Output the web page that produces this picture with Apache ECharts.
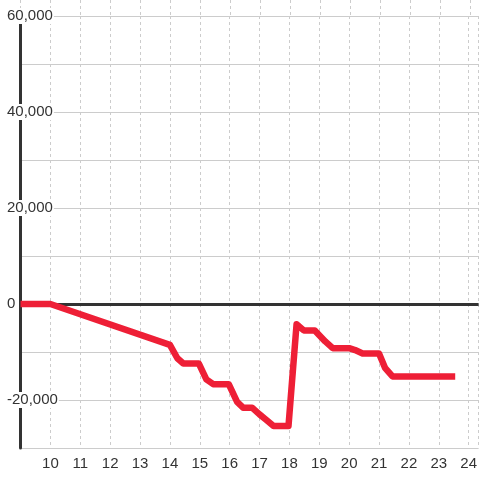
<!DOCTYPE html>
<html>
<head>
<meta charset="utf-8">
<script src="https://cdn.jsdelivr.net/npm/echarts@6/dist/echarts.min.js"></script>
<style>html,body{margin:0;padding:0;background:#fff}#c{width:480px;height:480px}</style>
</head>
<body>
<div id="c"></div>
<script>
var hours = [9, 10, 14, 14.25, 14.45, 14.97, 15.22, 15.45, 15.97, 16.25, 16.45, 16.75, 17.0, 17.2, 17.47, 17.97, 18.24, 18.48, 18.85, 19.2, 19.45, 20.0, 20.2, 20.45, 21.0, 21.2, 21.45, 23.55];
var values = [0, 0, -8500, -11300, -12400, -12400, -15700, -16700, -16700, -20400, -21600, -21600, -23000, -24000, -25400, -25400, -4200, -5500, -5500, -7800, -9200, -9200, -9600, -10300, -10300, -13300, -15100, -15100];
var xTickLabels = [10, 11, 12, 13, 14, 15, 16, 17, 18, 19, 20, 21, 22, 23, 24];
var yTickLabels = [-20000, 0, 20000, 40000, 60000];
var zeroLineValue = 0;

var xMin = 9, xMax = 9 + 460 / 30;
function fmt(v) { return String(v).replace(/\B(?=(\d{3})+(?!\d))/g, ','); }

var chart = echarts.init(document.getElementById('c'), null, {renderer: 'canvas'});
chart.setOption({
  animation: false,
  backgroundColor: '#fff',
  grid: [
    {left: 20.5, right: 0, top: 16, bottom: 32},
    {left: 20.5, right: 0, top: 0, height: 16}
  ],
  xAxis: [
    {
      gridIndex: 0, type: 'value', min: xMin, max: xMax, interval: 1, position: 'bottom',
      axisLine: {show: false}, axisTick: {show: false},
      axisLabel: {customValues: xTickLabels, fontSize: 15, color: '#333', margin: 8, fontFamily: 'Liberation Sans'},
      splitLine: {show: true, lineStyle: {color: '#cccccc', width: 1, type: [3, 3]}}
    },
    {
      gridIndex: 1, type: 'value', min: xMin, max: xMax, interval: 1,
      axisLine: {show: false}, axisTick: {show: false}, axisLabel: {show: false},
      splitLine: {show: true, lineStyle: {color: '#cccccc', width: 1, type: [3, 3]}}
    }
  ],
  yAxis: [
    {
      gridIndex: 0, type: 'value', min: -30000, max: 60000, interval: 10000,
      axisLine: {show: true, onZero: false, lineStyle: {color: '#333', width: 3}},
      axisTick: {show: false},
      axisLabel: {
        customValues: yTickLabels, formatter: function (v) { return fmt(v); },
        fontSize: 15, color: '#333', align: 'left', margin: 14.5,
        backgroundColor: '#fff', padding: [1, 1, 0, 1], fontFamily: 'Liberation Sans'
      },
      splitLine: {show: true, lineStyle: {color: '#cccccc', width: 1}}
    },
    {gridIndex: 1, type: 'value', min: 0, max: 1, show: false}
  ],
  series: [
    {
      type: 'line', xAxisIndex: 0, yAxisIndex: 0, z: 3, data: [],
      markLine: {
        silent: true, symbol: ['none', 'none'], label: {show: false},
        lineStyle: {color: '#333', width: 3, type: 'solid'},
        data: [{yAxis: zeroLineValue}]
      }
    },
    {
      type: 'line', xAxisIndex: 0, yAxisIndex: 0, z: 5,
      data: hours.map(function (h, i) { return [h, values[i]]; }),
      showSymbol: false, symbol: 'none',
      lineStyle: {color: '#ee1f36', width: 6.5, join: 'round'}
    }
  ]
});
</script>
</body>
</html>
